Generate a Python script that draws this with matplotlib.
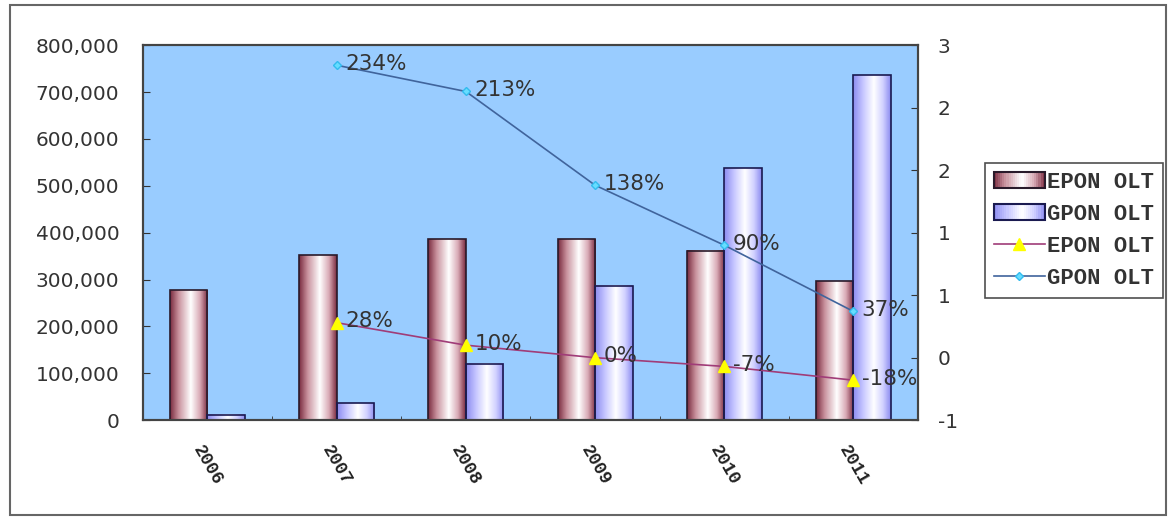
import numpy as np
import matplotlib
matplotlib.use("Agg")
import matplotlib.pyplot as plt
from matplotlib.colors import LinearSegmentedColormap
from matplotlib.patches import Rectangle
from matplotlib.lines import Line2D
from matplotlib.legend_handler import HandlerBase
from matplotlib.ticker import FuncFormatter, MultipleLocator

# data
years = ["2006", "2007", "2008", "2009", "2010", "2011"]
epon_olt = [277000, 352000, 386000, 386000, 362000, 296000]
gpon_olt = [12000, 36000, 120000, 287000, 537000, 736000]
epon_growth = [None, 28, 10, 0, -7, -18]     # percent
gpon_growth = [None, 234, 213, 138, 90, 37]  # percent
legend_labels = ["EPON OLT", "GPON OLT", "EPON OLT", "GPON OLT"]

epon_cmap = LinearSegmentedColormap.from_list(
    "epon", [(0, "#7a2c40"), (0.22, "#c8909c"), (0.55, "#ffffff"), (0.8, "#d8a8b4"), (1, "#7a2c40")])
gpon_cmap = LinearSegmentedColormap.from_list(
    "gpon", [(0, "#8c8cf0"), (0.25, "#c4c4ff"), (0.55, "#ffffff"), (0.8, "#d0d0ff"), (1, "#8c8cf0")])
grad = np.linspace(0, 1, 64).reshape(1, -1)

fig = plt.figure(figsize=(11.71, 5.2), dpi=100, facecolor="white")
ax = fig.add_axes([0.122, 0.192, 0.662, 0.721])
ax.set_facecolor("#99ccff")

x = np.arange(len(years))
w = 0.29
bars_e = ax.bar(x - w / 2, epon_olt, w, facecolor="none", edgecolor="#2a1a2a", lw=1.2, zorder=3)
bars_g = ax.bar(x + w / 2, gpon_olt, w, facecolor="none", edgecolor="#1a1a50", lw=1.2, zorder=3)
for bars, cmap in ((bars_e, epon_cmap), (bars_g, gpon_cmap)):
    for r in bars:
        x0, y0, bw, bh = r.get_x(), r.get_y(), r.get_width(), r.get_height()
        ax.imshow(grad, extent=[x0, x0 + bw, y0, y0 + bh], aspect="auto", cmap=cmap,
                  interpolation="bilinear", zorder=2)

ax.set_xlim(-0.5, len(years) - 0.5)
ax.set_ylim(0, 800000)
ax.yaxis.set_major_locator(MultipleLocator(100000))
ax.yaxis.set_major_formatter(FuncFormatter(lambda v, p: f"{int(v):,}"))
ax.set_xticks(x)
ax.set_xticklabels(years, rotation=-60, ha="center", va="top",
                   fontfamily="Liberation Mono", fontweight="bold", fontsize=13, color="#222222")
ax.tick_params(axis="x", length=0, pad=16)
ax.set_xticks(np.arange(-0.5, len(years)), minor=True)
ax.tick_params(axis="x", which="minor", length=3, direction="in", color="#333333")
ax.tick_params(axis="y", direction="in", length=5, pad=17, labelsize=14.5,
               colors="#333333", labelcolor="#333333")
for s in ax.spines.values():
    s.set_color("#444444")
    s.set_linewidth(1.5)

ax2 = ax.twinx()
ax2.set_ylim(-0.5, 2.5)
ax2.yaxis.set_major_locator(MultipleLocator(0.5))
ax2.yaxis.set_major_formatter(
    FuncFormatter(lambda v, p: f"{int(np.sign(v) * np.floor(abs(v) + 0.5 + 1e-9))}"))
ax2.tick_params(axis="y", direction="in", length=5, pad=14, labelsize=14.5,
                colors="#333333", labelcolor="#333333")
for s in ax2.spines.values():
    s.set_color("#444444")
    s.set_linewidth(1.5)

xe = [i for i, g in enumerate(epon_growth) if g is not None]
ye = [g / 100 for g in epon_growth if g is not None]
xg = [i for i, g in enumerate(gpon_growth) if g is not None]
yg = [g / 100 for g in gpon_growth if g is not None]
ax2.plot(xe, ye, color="#a03c78", lw=1.2, marker="^", ms=8, mfc="#ffff00", mec="#ffff00", zorder=4)
ax2.plot(xg, yg, color="#40649c", lw=1.2, marker="D", ms=4, mfc="#66ddff", mec="#33bbee", zorder=4)
for xi, g in zip(xe, [g for g in epon_growth if g is not None]):
    ax2.annotate(f"{g}%", (xi, g / 100), xytext=(6, 1), textcoords="offset points",
                 va="center", ha="left", fontsize=15.5, color="#333333", zorder=5)
for xi, g in zip(xg, [g for g in gpon_growth if g is not None]):
    ax2.annotate(f"{g}%", (xi, g / 100), xytext=(6, 1), textcoords="offset points",
                 va="center", ha="left", fontsize=15.5, color="#333333", zorder=5)


class GradHandler(HandlerBase):
    def __init__(self, cmap, edge):
        super().__init__()
        self.cmap = cmap
        self.edge = edge

    def create_artists(self, legend, orig, xd, yd, width, height, fontsize, trans):
        arts = []
        n = 24
        for i in range(n):
            arts.append(Rectangle((xd + width * i / n, yd), width / n + 0.3, height,
                                  facecolor=self.cmap((i + 0.5) / n), edgecolor="none", transform=trans))
        arts.append(Rectangle((xd, yd), width, height, facecolor="none", edgecolor=self.edge,
                              lw=1.5, transform=trans))
        return arts


h1 = Rectangle((0, 0), 1, 1)
h2 = Rectangle((0, 0), 1, 1)
h3 = Line2D([], [], color="#a03c78", lw=1.2, marker="^", ms=8, mfc="#ffff00", mec="#ffff00")
h4 = Line2D([], [], color="#40649c", lw=1.2, marker="D", ms=4, mfc="#66ddff", mec="#33bbee")
leg = fig.legend([h1, h2, h3, h4], legend_labels, loc="upper left", bbox_to_anchor=(0.841, 0.687),
                 handler_map={h1: GradHandler(epon_cmap, "#2a1a2a"), h2: GradHandler(gpon_cmap, "#1a1a50")},
                 prop={"family": "Liberation Mono", "weight": "bold", "size": 16},
                 frameon=True, fancybox=False, edgecolor="#222222", borderaxespad=0,
                 handlelength=2.3, handletextpad=0.1, labelspacing=0.5, borderpad=0.4)
leg.get_frame().set_linewidth(1.2)
for t in leg.get_texts():
    t.set_color("#333333")

fig.patches.append(Rectangle((10 / 1171, 5 / 520), 1156 / 1171, 510 / 520, transform=fig.transFigure,
                             fill=False, edgecolor="#666666", lw=1.5))

fig.savefig("out.png", dpi=100)
